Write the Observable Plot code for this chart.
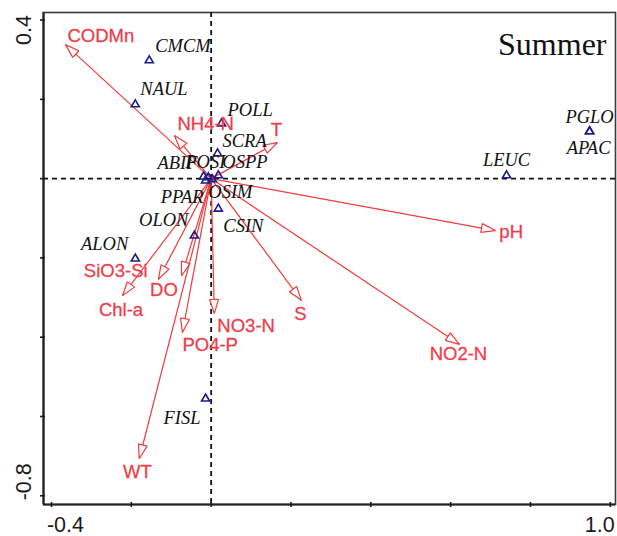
<!DOCTYPE html>
<html>
<head>
<meta charset="utf-8">
<script src="https://cdn.jsdelivr.net/npm/d3@7"></script>
<script src="https://cdn.jsdelivr.net/npm/@observablehq/plot@0.6"></script>
<style>
  html, body { margin: 0; padding: 0; background: #fff; }
  #chart svg { display: block; }
</style>
</head>
<body>
<div id="chart"></div>
<script>
// RDA biplot, summer survey: species scores (triangles) and environmental vectors (arrows)

const speciesNames = ["CMCM", "NAUL", "POLL", "SCRA", "ABIF", "POSI", "OSPP", "PPAR", "OSIM",
                      "CSIN", "OLON", "ALON", "LEUC", "PGLO", "APAC", "FISL"];
const speciesAxis1 = [-0.155, -0.190, 0.026, 0.016, -0.019, -0.007, 0.018, -0.014, 0.003,
                      0.018, -0.042, -0.190, 0.740, 0.948, 0.948, -0.014];
const speciesAxis2 = [0.298, 0.187, 0.139, 0.063, 0.005, 0.003, 0.008, -0.005, -0.002,
                      -0.076, -0.144, -0.202, 0.008, 0.119, 0.119, -0.555];

const envNames = ["CODMn", "NH4-N", "T", "pH", "NO2-N", "S", "NO3-N", "PO4-P",
                  "Chl-a", "DO", "SiO3-Si", "WT"];
const envAxis1 = [-0.365, -0.092, 0.166, 0.712, 0.622, 0.226, 0.008, -0.072,
                  -0.222, -0.132, -0.074, -0.180];
const envAxis2 = [0.338, 0.109, 0.091, -0.131, -0.418, -0.307, -0.340, -0.388,
                  -0.295, -0.254, -0.245, -0.706];

const xDomain = [-0.42, 1.013];
const yDomain = [-0.822, 0.419];
const xTickValues = [-0.4, -0.2, 0, 0.2, 0.4, 0.6, 0.8, 1.0];
const yTickValues = [-0.8, -0.6, -0.4, -0.2, 0, 0.2, 0.4];
const seasonTitle = "Summer";

// label placement (pixel offsets from the point / arrow tip)
const speciesLabelLayout = {
  CMCM: [6, -14, "start"], NAUL: [5, -15, "start"], POLL: [6, -13, "start"],
  SCRA: [5, -13, "start"], ABIF: [-6, -14, "end"], POSI: [-3, -15, "middle"],
  OSPP: [4, -13, "start"], PPAR: [-2, 16, "end"], OSIM: [-4, 13, "start"],
  CSIN: [5, 17, "start"], OLON: [-6, -16, "end"], ALON: [-7, -15, "end"],
  LEUC: [0, -15, "middle"], PGLO: [0, -14, "middle"], APAC: [-1, 17, "middle"],
  FISL: [-5, 19, "end"]
};
const envLabelLayout = {
  "CODMn": [2, -9, "start"], "NH4-N": [3, -11, "start"], "T": [-1, -12, "middle"],
  "pH": [4, 2, "start"], "NO2-N": [-1, 10, "middle"], "S": [-1, 14, "middle"],
  "NO3-N": [3, 13, "start"], "PO4-P": [0, 13, "start"], "Chl-a": [-1.5, 15, "middle"],
  "DO": [5.5, 11, "middle"], "SiO3-Si": [-34, -5, "end"], "WT": [-2, 14, "middle"]
};

const species = speciesNames.map((name, i) => ({name, x: speciesAxis1[i], y: speciesAxis2[i]}));
const env = envNames.map((name, i) => ({name, x: envAxis1[i], y: envAxis2[i]}));

const NAVY = "#1c1c8a";
const RED_LINE = "#f03c3c";
const RED_TEXT = "#ee3e4a";
const SANS = "'Liberation Sans', Arial, sans-serif";
const SERIF = "'Liberation Serif', 'Times New Roman', serif";

// hollow triangular arrowhead
const SVGNS = "http://www.w3.org/2000/svg";
function hollowHead(color, context) {
  const doc = (context && context.document) || document;
  const m = doc.createElementNS(SVGNS, "marker");
  m.setAttribute("viewBox", "-16 -7 18 14");
  m.setAttribute("markerWidth", 18);
  m.setAttribute("markerHeight", 14);
  m.setAttribute("markerUnits", "userSpaceOnUse");
  m.setAttribute("orient", "auto");
  m.setAttribute("refX", 0);
  m.setAttribute("refY", 0);
  const p = doc.createElementNS(SVGNS, "path");
  p.setAttribute("d", "M0,0L-14,-4.5L-14,4.5Z");
  p.setAttribute("fill", "white");
  p.setAttribute("stroke", color);
  p.setAttribute("stroke-width", 1.2);
  m.appendChild(p);
  return m;
}

const fmt = d => d.toFixed(1);

const speciesLabelMarks = species.map(d => {
  const [dx, dy, textAnchor] = speciesLabelLayout[d.name];
  return Plot.text([d], {
    x: "x", y: "y", text: "name", dx, dy, textAnchor,
    fontFamily: SERIF, fontStyle: "italic", fontSize: 18.5, fill: "#111"
  });
});
const envLabelMarks = env.map(d => {
  const [dx, dy, textAnchor] = envLabelLayout[d.name];
  return Plot.text([d], {
    x: "x", y: "y", text: "name", dx, dy, textAnchor,
    fontFamily: SANS, fontSize: 18.5, fill: RED_TEXT, stroke: RED_TEXT, strokeWidth: 0.3
  });
});

const chart = Plot.plot({
  width: 617,
  height: 536,
  marginLeft: 43,
  marginRight: 2,
  marginTop: 12,
  marginBottom: 32,
  x: {domain: xDomain, label: null},
  y: {domain: yDomain, label: null},
  style: {background: "white", fontFamily: SANS, color: "#1a1a1a"},
  marks: [
    Plot.frame({stroke: "#3a3a3a", strokeWidth: 1.6}),
    Plot.ruleY([0], {stroke: "#111", strokeWidth: 1.8, strokeDasharray: "5,4"}),
    Plot.ruleX([0], {stroke: "#111", strokeWidth: 1.8, strokeDasharray: "5,4"}),
    Plot.ruleX([xDomain[0]], {stroke: "#222", strokeWidth: 2.2}),
    Plot.ruleY([yDomain[0]], {stroke: "#222", strokeWidth: 2.2}),
    Plot.axisX(xTickValues, {tickSize: 5, dy: -2, text: null, label: null, strokeWidth: 1.6}),
    Plot.axisY(yTickValues, {tickSize: 5, dx: 2, text: null, label: null, strokeWidth: 1.6}),
    Plot.axisX([-0.4], {tickSize: 0, tickPadding: 12, fontSize: 21.5, dx: 14, label: null, tickFormat: fmt}),
    Plot.axisX([1.0], {tickSize: 0, tickPadding: 12, fontSize: 21.5, dx: -10.5, label: null, tickFormat: fmt}),
    Plot.axisY([0.4], {tickSize: 0, tickRotate: -90, tickPadding: 13, fontSize: 21.5, dy: 10, label: null, tickFormat: fmt}),
    Plot.axisY([-0.8], {tickSize: 0, tickRotate: -90, tickPadding: 13, fontSize: 21.5, dy: -14, label: null, tickFormat: fmt}),
    Plot.link(env, {
      x1: () => 0, y1: () => 0, x2: "x", y2: "y",
      stroke: RED_LINE, strokeWidth: 1.2, markerEnd: hollowHead
    }),
    Plot.dot(species, {
      x: "x", y: "y", symbol: "triangle", r: 3,
      stroke: NAVY, strokeWidth: 1.6, fill: "none"
    }),
    ...envLabelMarks,
    ...speciesLabelMarks,
    Plot.text([seasonTitle], {
      frameAnchor: "top-right", dx: -9, dy: 20, lineAnchor: "top",
      textAnchor: "end", fontFamily: SERIF, fontSize: 32, fill: "#111"
    })
  ]
});

document.getElementById("chart").appendChild(chart);
</script>
</body>
</html>
